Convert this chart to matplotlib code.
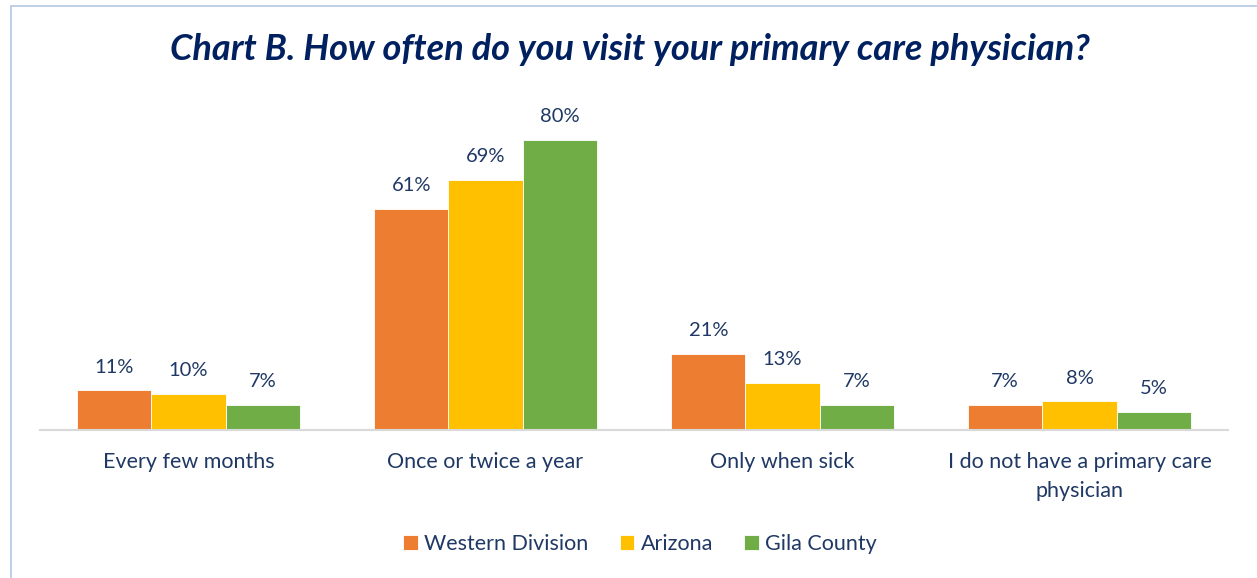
import numpy as np
import matplotlib.pyplot as plt
from matplotlib.patches import Rectangle

categories = ["Every few months", "Once or twice a year", "Only when sick",
              "I do not have a primary care\nphysician"]
series = ["Western Division", "Arizona", "Gila County"]
western = [11, 61, 21, 7]
arizona = [10, 69, 13, 8]
gila = [7, 80, 7, 5]
colors = ["#ED7D31", "#FFC000", "#70AD47"]

navy = "#1F3864"
plt.rcParams['font.family'] = ['Lato', 'DejaVu Sans']

fig = plt.figure(figsize=(12.57, 5.78), dpi=100)
W, H = 1257, 578
ax = fig.add_axes([40 / W, 1 - 430 / H, 1188 / W, (430 - 103.75) / H])

x = np.arange(len(categories))
bw = 0.25
for i, (vals, name) in enumerate(zip([western, arizona, gila], series)):
    bars = ax.bar(x + (i - 1) * bw, vals, bw, color=colors[i], label=name,
                  edgecolor="white", linewidth=0.6)
    for b, v in zip(bars, vals):
        ax.text(b.get_x() + b.get_width() / 2, v + 4, "%d%%" % v,
                ha="center", va="bottom", fontsize=14.5, color=navy)

ax.set_xlim(-0.5, 3.5)
ax.set_ylim(0, 90)
ax.set_yticks([])
ax.set_xticks(x)
ax.set_xticklabels(categories, fontsize=15.5, color=navy, linespacing=1.55)
ax.tick_params(axis="x", length=0, pad=16)
for sp in ["top", "right", "left"]:
    ax.spines[sp].set_visible(False)
ax.spines["bottom"].set_color("#D9D9D9")
ax.spines["bottom"].set_linewidth(1.5)

fig.text(630 / W, 1 - 50 / H, "Chart B. How often do you visit your primary care physician?",
         ha="center", va="center", fontsize=26, fontweight="bold", fontstyle="italic",
         color="#002060")

leg = fig.legend(loc="center", bbox_to_anchor=(640 / W, 1 - 544 / H), ncol=3, frameon=False,
                 fontsize=15.5, handlelength=0.68, handleheight=0.68, handletextpad=0.3,
                 columnspacing=1.45)
for t in leg.get_texts():
    t.set_color(navy)

# chart border
fig.patches.append(Rectangle((11 / W, -0.01), 1.05, 1 - 6 / H + 0.01, transform=fig.transFigure,
                             fill=False, edgecolor="#B4C7E7", linewidth=1.2))

fig.savefig("out.png", dpi=100)
